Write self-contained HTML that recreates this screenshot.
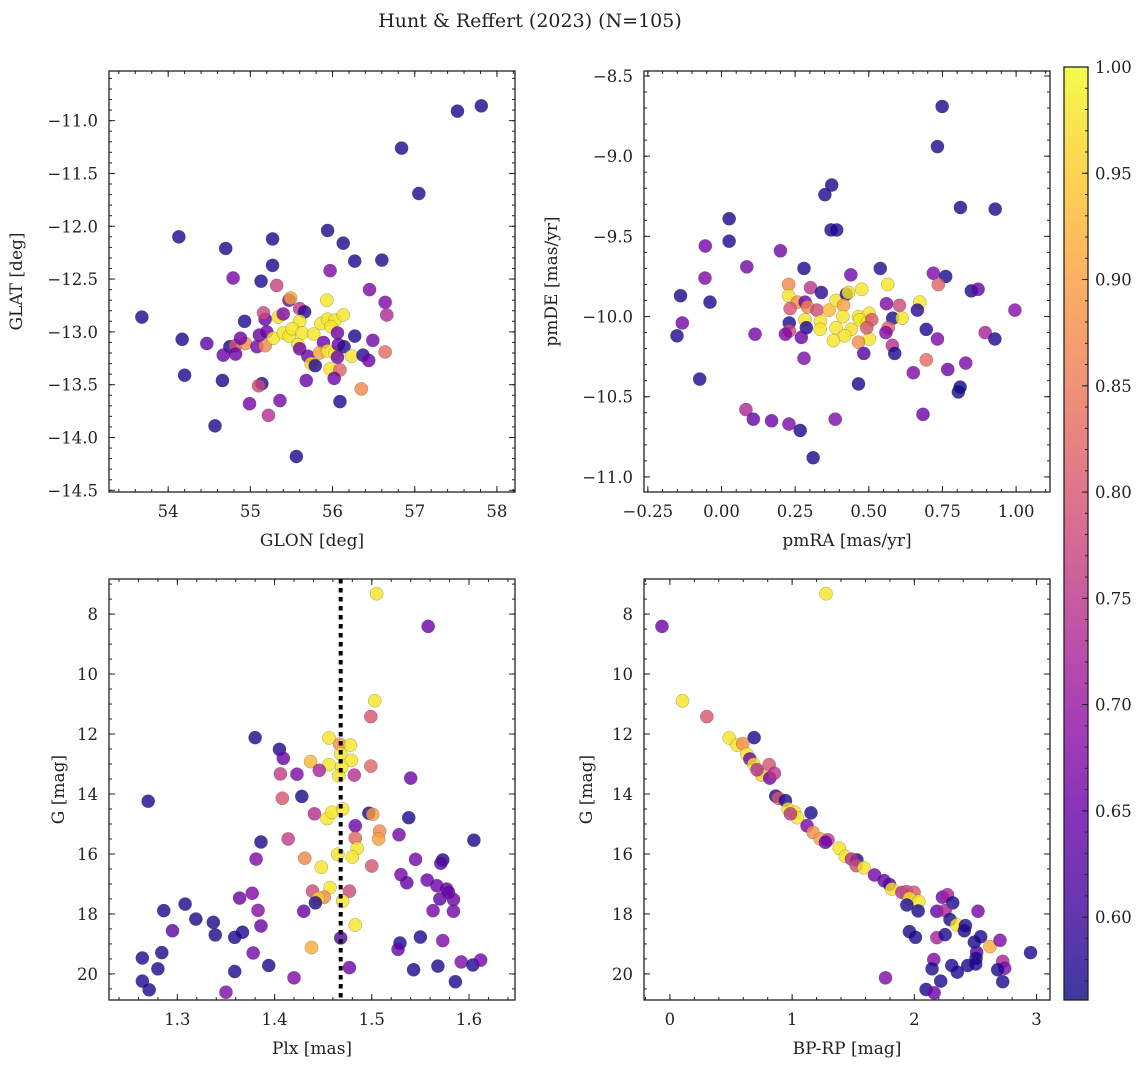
<!DOCTYPE html>
<html><head><meta charset="utf-8"><style>
html,body{margin:0;padding:0;background:#fff;}
svg text{font-family:"DejaVu Serif","Liberation Serif",serif;fill:#222;}
</style></head><body>
<svg id="fig" width="1148" height="1067" viewBox="0 0 1148 1067" xmlns="http://www.w3.org/2000/svg">
<defs>
<linearGradient id="plasma" x1="0" y1="1" x2="0" y2="0">
<stop offset="0" stop-color="#0d0887"/><stop offset="0.1" stop-color="#41049d"/><stop offset="0.2" stop-color="#6a00a8"/><stop offset="0.3" stop-color="#8f0da4"/><stop offset="0.4" stop-color="#b12a90"/><stop offset="0.5" stop-color="#cc4778"/><stop offset="0.6" stop-color="#e16462"/><stop offset="0.7" stop-color="#f2844b"/><stop offset="0.8" stop-color="#fca636"/><stop offset="0.9" stop-color="#fcce25"/><stop offset="1" stop-color="#f0f921"/>
</linearGradient>
</defs>
<text x="530" y="27" font-size="19" text-anchor="middle">Hunt &amp; Reffert (2023) (N=105)</text>
</svg>
<script>
// ---- Data: panel A (GLON vs GLAT)
const glon=[53.68,54.13,54.70,55.27,55.27,55.94,56.13,56.27,56.60,54.79,55.13,55.32,55.97,56.45,56.64,56.66,56.84,57.05,57.52,57.81,54.17,54.47,54.20,54.66,54.57,55.56,54.93,54.75,54.82,54.94,54.67,54.82,54.88,55.08,55.18,55.11,55.20,55.18,55.16,55.34,55.40,55.47,55.49,55.60,55.66,55.60,55.28,55.40,55.47,55.51,55.63,55.58,55.60,55.77,55.70,55.74,55.79,55.68,55.93,55.86,55.94,56.03,56.13,55.98,56.06,55.89,55.84,55.94,56.03,56.07,56.14,56.06,55.97,56.09,56.02,56.09,56.23,56.27,56.37,56.44,56.49,56.64,56.35,55.14,55.10,54.99,55.36,55.22];
const glat=[-12.86,-12.10,-12.21,-12.12,-12.37,-12.04,-12.16,-12.33,-12.32,-12.49,-12.52,-12.56,-12.42,-12.60,-12.72,-12.84,-11.26,-11.69,-10.91,-10.86,-13.07,-13.11,-13.41,-13.46,-13.89,-14.18,-12.90,-13.14,-13.13,-13.11,-13.22,-13.21,-13.06,-13.14,-13.13,-13.03,-13.00,-12.88,-12.82,-12.86,-12.83,-12.70,-12.68,-12.78,-12.81,-12.90,-13.06,-13.01,-13.04,-12.97,-13.01,-13.12,-13.16,-13.02,-13.23,-13.30,-13.32,-13.46,-12.70,-12.92,-12.88,-12.89,-12.84,-12.95,-13.01,-13.10,-13.20,-13.18,-13.20,-13.12,-13.14,-13.24,-13.35,-13.36,-13.44,-13.66,-13.23,-13.04,-13.22,-13.27,-13.08,-13.19,-13.54,-13.49,-13.51,-13.68,-13.65,-13.79];
const probA=[0.57,0.57,0.57,0.57,0.57,0.57,0.57,0.57,0.57,0.66,0.57,0.77,0.67,0.67,0.67,0.73,0.57,0.57,0.57,0.57,0.57,0.63,0.57,0.57,0.57,0.57,0.57,0.57,0.80,0.88,0.65,0.65,0.65,0.66,0.87,0.65,0.65,0.64,0.78,0.97,0.67,0.65,0.90,0.75,0.58,0.98,0.98,0.98,0.98,0.98,0.98,0.98,0.65,0.98,0.65,0.96,0.57,0.65,0.98,0.98,0.98,0.98,0.98,0.98,0.65,0.65,0.90,0.98,0.98,0.64,0.58,0.65,0.98,0.82,0.65,0.57,0.98,0.57,0.58,0.65,0.66,0.83,0.87,0.57,0.78,0.66,0.66,0.74];
// ---- Data: panel B (pmRA vs pmDE)
const pmra=[0.749,0.733,0.374,0.351,0.372,0.391,0.811,0.929,0.026,0.026,-0.055,0.200,0.086,0.280,0.539,0.439,0.719,0.761,-0.056,-0.139,-0.039,-0.133,-0.151,0.114,0.228,0.228,0.302,0.339,0.258,0.284,0.292,0.233,0.324,0.365,0.389,0.424,0.431,0.476,0.564,0.414,0.412,0.465,0.501,0.470,0.495,0.510,0.560,0.604,0.673,0.665,0.581,0.613,0.566,0.558,0.695,0.733,0.848,0.871,0.736,0.996,0.895,0.928,0.283,0.336,0.335,0.389,0.440,0.418,0.380,0.502,0.465,0.493,0.230,0.288,0.230,0.217,0.271,0.280,0.483,0.580,0.588,0.695,0.651,0.768,0.829,-0.074,0.465,0.804,0.810,0.083,0.108,0.170,0.229,0.267,0.386,0.684,0.311];
const pmde=[-8.69,-8.94,-9.18,-9.24,-9.46,-9.46,-9.32,-9.33,-9.39,-9.53,-9.56,-9.59,-9.69,-9.70,-9.70,-9.74,-9.73,-9.75,-9.76,-9.87,-9.91,-10.04,-10.12,-10.11,-9.80,-9.87,-9.82,-9.85,-9.91,-9.91,-9.94,-9.95,-9.96,-9.96,-9.90,-9.86,-9.85,-9.83,-9.80,-9.93,-10.00,-10.00,-9.98,-10.02,-10.04,-10.02,-9.92,-9.93,-9.91,-9.96,-10.01,-10.01,-10.07,-10.10,-10.08,-10.14,-9.84,-9.83,-9.80,-9.96,-10.10,-10.14,-10.02,-10.03,-10.08,-10.07,-10.08,-10.12,-10.15,-10.14,-10.16,-10.07,-10.04,-10.07,-10.09,-10.11,-10.13,-10.26,-10.23,-10.18,-10.23,-10.27,-10.35,-10.33,-10.29,-10.39,-10.42,-10.47,-10.44,-10.58,-10.64,-10.65,-10.67,-10.71,-10.64,-10.61,-10.88];
const probB=[0.57,0.57,0.57,0.57,0.57,0.57,0.57,0.57,0.57,0.57,0.66,0.66,0.66,0.57,0.58,0.66,0.67,0.57,0.67,0.57,0.57,0.66,0.57,0.66,0.87,0.98,0.75,0.58,0.88,0.65,0.87,0.80,0.78,0.93,0.98,0.58,0.98,0.98,0.98,0.90,0.98,0.98,0.98,0.98,0.98,0.80,0.67,0.78,0.98,0.58,0.57,0.98,0.82,0.67,0.57,0.67,0.57,0.64,0.82,0.68,0.72,0.57,0.98,0.98,0.98,0.98,0.97,0.98,0.98,0.98,0.88,0.80,0.57,0.57,0.78,0.67,0.65,0.67,0.62,0.74,0.57,0.83,0.67,0.65,0.67,0.57,0.57,0.57,0.56,0.73,0.64,0.65,0.67,0.57,0.67,0.65,0.57];
// ---- Data: panel C (Plx vs G)
const plx=[1.505,1.558,1.503,1.499,1.380,1.456,1.467,1.478,1.405,1.409,1.468,1.479,1.437,1.456,1.469,1.499,1.406,1.423,1.446,1.466,1.482,1.540,1.270,1.408,1.428,1.441,1.454,1.459,1.470,1.497,1.501,1.538,1.483,1.508,1.507,1.483,1.414,1.386,1.485,1.465,1.480,1.528,1.605,1.381,1.431,1.448,1.500,1.545,1.573,1.571,1.530,1.536,1.557,1.567,1.577,1.579,1.570,1.584,1.563,1.584,1.439,1.457,1.451,1.445,1.442,1.477,1.470,1.430,1.483,1.364,1.377,1.383,1.386,1.308,1.286,1.319,1.337,1.339,1.295,1.359,1.367,1.284,1.264,1.280,1.264,1.271,1.359,1.378,1.394,1.420,1.350,1.438,1.468,1.477,1.529,1.527,1.550,1.573,1.543,1.568,1.586,1.592,1.604,1.612];
const gmagC=[7.32,8.41,10.89,11.42,12.12,12.13,12.34,12.37,12.51,12.81,12.67,12.88,12.92,13.02,13.11,13.07,13.33,13.34,13.21,13.39,13.37,13.47,14.24,14.14,14.08,14.66,14.82,14.61,14.50,14.64,14.68,14.79,15.06,15.24,15.50,15.47,15.50,15.60,15.81,16.01,16.10,15.36,15.54,16.17,16.14,16.44,16.40,16.18,16.20,16.31,16.69,16.96,16.87,17.06,17.17,17.28,17.50,17.52,17.89,17.91,17.24,17.12,17.44,17.48,17.63,17.24,17.57,17.91,18.37,17.47,17.31,17.88,18.40,17.67,17.89,18.17,18.28,18.70,18.56,18.78,18.61,19.29,19.47,19.83,20.24,20.53,19.92,19.30,19.72,20.13,20.61,19.12,18.80,19.79,18.97,19.18,18.77,18.89,19.86,19.74,20.26,19.60,19.70,19.54];
const probC=[0.98,0.65,0.98,0.80,0.57,0.98,0.88,0.98,0.57,0.65,0.98,0.98,0.93,0.98,0.98,0.82,0.76,0.67,0.72,0.98,0.74,0.65,0.57,0.80,0.57,0.74,0.98,0.98,0.98,0.57,0.90,0.57,0.65,0.87,0.90,0.82,0.76,0.57,0.98,0.98,0.98,0.66,0.57,0.67,0.87,0.98,0.80,0.66,0.57,0.62,0.66,0.64,0.65,0.65,0.64,0.64,0.63,0.65,0.66,0.66,0.78,0.98,0.87,0.96,0.57,0.78,0.98,0.64,0.98,0.65,0.67,0.68,0.64,0.57,0.57,0.57,0.57,0.57,0.63,0.57,0.57,0.57,0.57,0.57,0.57,0.57,0.57,0.66,0.57,0.67,0.67,0.92,0.62,0.65,0.57,0.64,0.57,0.67,0.57,0.57,0.57,0.67,0.57,0.66];
// ---- Data: panel D (BP-RP vs G)
const bprp=[1.277,-0.065,0.103,0.302,0.485,0.689,0.550,0.596,0.629,0.654,0.686,0.812,0.749,0.817,0.855,0.713,0.866,0.888,0.945,0.967,1.021,1.043,1.154,0.986,1.122,1.171,1.231,1.293,1.272,1.386,1.435,1.530,1.486,1.525,1.587,1.674,1.753,1.797,1.816,1.898,1.939,1.998,1.960,2.036,1.939,2.031,2.230,2.271,2.314,2.184,2.252,2.292,2.347,2.418,2.409,2.521,1.960,2.009,2.184,2.252,2.491,2.543,2.619,2.701,2.510,2.505,2.437,2.306,2.352,2.502,2.159,2.145,2.216,2.096,2.162,1.764,2.723,2.739,2.682,2.723,2.951];
const gmagD=[7.32,8.41,10.89,11.42,12.13,12.12,12.37,12.32,12.67,12.83,13.01,13.02,13.37,13.47,13.31,13.19,14.07,14.14,14.22,14.50,14.61,14.79,14.63,14.66,15.06,15.28,15.50,15.53,15.61,15.81,16.08,16.20,16.17,16.39,16.46,16.70,16.89,17.02,17.17,17.28,17.26,17.28,17.48,17.58,17.70,17.90,17.44,17.36,17.63,17.91,17.89,18.19,18.37,18.39,18.56,17.91,18.59,18.78,18.79,18.69,18.94,18.76,19.09,18.88,19.28,19.48,19.72,19.72,19.94,19.67,19.52,19.83,20.24,20.52,20.63,20.13,19.58,19.81,19.86,20.26,19.29];
const probD=[0.98,0.65,0.98,0.80,0.98,0.57,0.98,0.88,0.98,0.65,0.98,0.80,0.95,0.65,0.75,0.74,0.57,0.80,0.57,0.98,0.98,0.98,0.57,0.75,0.66,0.88,0.90,0.75,0.65,0.98,0.98,0.57,0.74,0.78,0.98,0.66,0.64,0.63,0.98,0.74,0.78,0.80,0.98,0.98,0.57,0.57,0.66,0.72,0.57,0.64,0.72,0.57,0.98,0.57,0.57,0.66,0.57,0.57,0.72,0.57,0.57,0.57,0.92,0.67,0.63,0.57,0.57,0.57,0.57,0.57,0.67,0.57,0.57,0.57,0.65,0.67,0.72,0.67,0.57,0.57,0.57];
// ---- Tick values
const ticksAx=[54,55,56,57,58];
const ticksAy=[-11,-11.5,-12,-12.5,-13,-13.5,-14,-14.5];
const ticksBx=[-0.25,0,0.25,0.5,0.75,1.0];
const ticksBy=[-8.5,-9,-9.5,-10,-10.5,-11];
const ticksCx=[1.3,1.4,1.5,1.6];
const ticksGy=[8,10,12,14,16,18,20];
const ticksDx=[0,1,2,3];
const ticksCbar=[0.60,0.65,0.70,0.75,0.80,0.85,0.90,0.95,1.00];
const plxRef=[1.468];

const svg=document.getElementById('fig');
const NS='http://www.w3.org/2000/svg';
function el(tag,attrs,parent){const e=document.createElementNS(NS,tag);for(const k in attrs)e.setAttribute(k,attrs[k]);(parent||svg).appendChild(e);return e;}
const PL=['#0d0887','#41049d','#6a00a8','#8f0da4','#b12a90','#cc4778','#e16462','#f2844b','#fca636','#fcce25','#f0f921'];
const CMIN=0.561,CMAX=1.0;
function hex(h){return [parseInt(h.slice(1,3),16),parseInt(h.slice(3,5),16),parseInt(h.slice(5,7),16)];}
function cmap(v){let t=(v-CMIN)/(CMAX-CMIN);t=Math.max(0,Math.min(1,t));const s=t*10,i=Math.min(9,Math.floor(s)),f=s-i;const a=hex(PL[i]),b=hex(PL[i+1]);return 'rgb('+a.map((c,k)=>Math.round(c+(b[k]-c)*f)).join(',')+')';}
function fmt(v,d){const s=v.toFixed(d);return s.replace('-','\u2212');}

function panel(o){
  const g=el('g',{});
  
  
  const sx=v=>o.x0+(v-o.xmin)/(o.xmax-o.xmin)*(o.x1-o.x0);
  const sy=o.inv? (v=>o.y0+(v-o.ymin)/(o.ymax-o.ymin)*(o.y1-o.y0)) : (v=>o.y1-(v-o.ymin)/(o.ymax-o.ymin)*(o.y1-o.y0));
  const mt=el('g',{stroke:'#222','stroke-width':1},g);
  
  
  function rng(a,b,st){const r=[];const s=Math.ceil(Math.min(a,b)/st-1e-6);const e=Math.floor(Math.max(a,b)/st+1e-6);for(let i=s;i<=e;i++)r.push(i*st);return r;}
  rng(o.xmin,o.xmax,o.xminor).forEach(v=>{const x=sx(v);el('line',{x1:x,x2:x,y1:o.y1,y2:o.y1-3},mt);el('line',{x1:x,x2:x,y1:o.y0,y2:o.y0+3},mt);});
  rng(o.ymin,o.ymax,o.yminor).forEach(v=>{const y=sy(v);el('line',{x1:o.x0,x2:o.x0+3,y1:y,y2:y},mt);el('line',{x1:o.x1,x2:o.x1-3,y1:y,y2:y},mt);});
  o.xt.forEach(v=>{const x=sx(v);el('line',{x1:x,x2:x,y1:o.y1,y2:o.y1-6},mt);el('line',{x1:x,x2:x,y1:o.y0,y2:o.y0+6},mt);
    const t=el('text',{x:x,y:o.y1+25,'font-size':16.5,'text-anchor':'middle'},g);t.textContent=fmt(v,o.xd);
    });
  o.yt.forEach(v=>{const y=sy(v);el('line',{x1:o.x0,x2:o.x0+6,y1:y,y2:y},mt);el('line',{x1:o.x1,x2:o.x1-6,y1:y,y2:y},mt);
    const t=el('text',{x:o.x0-11,y:y+6,'font-size':16.5,'text-anchor':'end'},g);t.textContent=fmt(v,o.yd);
    });
  const pg=el('g',{},g);
  
  
  for(let i=0;i<o.xs.length;i++){
    const c=el('circle',{cx:sx(o.xs[i]),cy:sy(o.ys[i]),r:6.6,fill:cmap(o.ps[i]),'fill-opacity':0.8,stroke:'rgba(60,60,60,0.45)','stroke-width':0.5},pg);
    
    
  }
  if(o.vline){o.vline.forEach(v=>{const l=el('line',{x1:sx(v),x2:sx(v),y1:o.y0,y2:o.y1,stroke:'#000','stroke-width':4,'stroke-dasharray':'4.5,4.5'},g);
    });}
  const fr=el('rect',{x:o.x0,y:o.y0,width:o.x1-o.x0,height:o.y1-o.y0,fill:'none',stroke:'#222','stroke-width':1.3},g);
  
  
  const xl=el('text',{x:(o.x0+o.x1)/2,y:o.y1+54,'font-size':17,'text-anchor':'middle'},g);xl.textContent=o.xlabel;
  
  const yl=el('text',{x:o.ylx,y:(o.y0+o.y1)/2,'font-size':17,'text-anchor':'middle',transform:'rotate(-90 '+o.ylx+' '+(o.y0+o.y1)/2+')'},g);yl.textContent=o.ylabel;
  
}
panel({name:'glon-glat-panel',x0:109,x1:515,y0:71,y1:492,xmin:53.28,xmax:58.22,ymin:-14.516,ymax:-10.53,xminor:0.2,yminor:0.1,xt:ticksAx,yt:ticksAy,xd:0,yd:1,xs:glon,ys:glat,ps:probA,xlabel:'GLON [deg]',ylabel:'GLAT [deg]',ylx:22});
panel({name:'proper-motion-panel',x0:644,x1:1050,y0:71,y1:492,xmin:-0.263,xmax:1.115,ymin:-11.094,ymax:-8.469,xminor:0.05,yminor:0.1,xt:ticksBx,yt:ticksBy,xd:2,yd:1,xs:pmra,ys:pmde,ps:probB,xlabel:'pmRA [mas/yr]',ylabel:'pmDE [mas/yr]',ylx:557});
panel({name:'parallax-mag-panel',x0:109,x1:515,y0:579,y1:1000,xmin:1.2297,xmax:1.6473,ymin:6.83,ymax:20.87,inv:true,xminor:0.02,yminor:0.5,xt:ticksCx,yt:ticksGy,xd:1,yd:0,xs:plx,ys:gmagC,ps:probC,xlabel:'Plx [mas]',ylabel:'G [mag]',ylx:64});
panel({name:'color-magnitude-panel',x0:644,x1:1050,y0:579,y1:1000,xmin:-0.212,xmax:3.11,ymin:6.83,ymax:20.87,inv:true,xminor:0.2,yminor:0.5,xt:ticksDx,yt:ticksGy,xd:0,yd:0,xs:bprp,ys:gmagD,ps:probD,xlabel:'BP-RP [mag]',ylabel:'G [mag]',ylx:592});
// the reference line must be drawn in panel C; added via vline option below
</script>
<script>
// re-draw parallax reference line (panel C) using data array
(function(){
  const x0=109,x1=515,xmin=1.2297,xmax=1.6473;
  const sx=v=>x0+(v-xmin)/(xmax-xmin)*(x1-x0);
  plxRef.forEach(v=>{
    const l=document.createElementNS(NS,'line');
    l.setAttribute('x1',sx(v));l.setAttribute('x2',sx(v));l.setAttribute('y1',579);l.setAttribute('y2',1000);
    l.setAttribute('stroke','#000');l.setAttribute('stroke-width',4);l.setAttribute('stroke-dasharray','4.5,4.5');
    
    
    svg.appendChild(l);
  });
  const cb=el('g',{});
  
  
  const CB={x0:1064,x1:1088,y0:67,y1:1000};
  const cy=v=>CB.y1-(v-CMIN)/(CMAX-CMIN)*(CB.y1-CB.y0);
  el('rect',{x:CB.x0,y:CB.y0,width:CB.x1-CB.x0,height:CB.y1-CB.y0,fill:'url(#plasma)','fill-opacity':0.8},cb);
  for(let v=0.57;v<=1.0001;v+=0.01){const y=cy(v);el('line',{x1:CB.x1,x2:CB.x1-3,y1:y,y2:y,stroke:'#222','stroke-width':1},cb);}
  ticksCbar.forEach(v=>{const y=cy(v);el('line',{x1:CB.x1,x2:CB.x1-6,y1:y,y2:y,stroke:'#222','stroke-width':1},cb);
    const t=el('text',{x:CB.x1+7,y:y+6,'font-size':16.5},cb);t.textContent=v.toFixed(2);
    });
  el('rect',{x:CB.x0,y:CB.y0,width:CB.x1-CB.x0,height:CB.y1-CB.y0,fill:'none',stroke:'#222','stroke-width':1.3},cb);
})();
</script>
</body></html>
